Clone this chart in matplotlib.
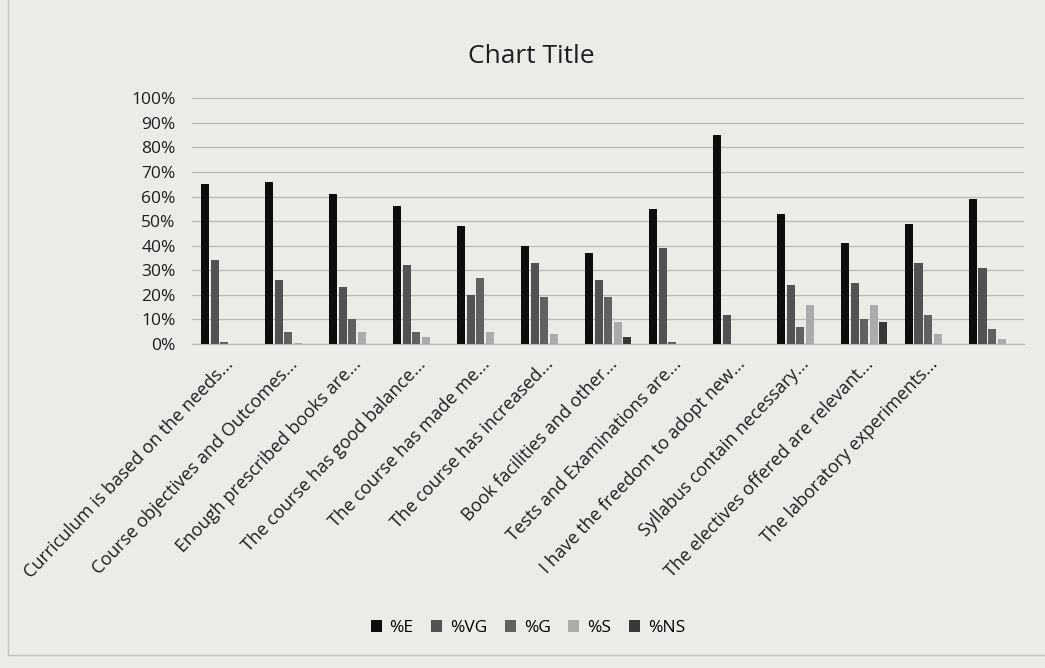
import matplotlib.pyplot as plt
import matplotlib.transforms as mtransforms
from matplotlib.patches import Rectangle
import numpy as np

plt.rcParams['font.family'] = ['Open Sans', 'DejaVu Sans']

# 13 groups in the chart, the last one has no label
categories = [
    "Curriculum is based on the needs...",
    "Course objectives and Outcomes...",
    "Enough prescribed books are...",
    "The course has good balance...",
    "The course has made me...",
    "The course has increased...",
    "Book facilities and other...",
    "Tests and Examinations are...",
    "I have the freedom to adopt new...",
    "Syllabus contain necessary...",
    "The electives offered are relevant...",
    "The laboratory experiments...",
    "",
]
series = ["%E", "%VG", "%G", "%S", "%NS"]
pct_e = [65, 66, 61, 56, 48, 40, 37, 55, 85, 53, 41, 49, 59]
pct_vg = [34, 26, 23, 32, 20, 33, 26, 39, 12, 24, 25, 33, 31]
pct_g = [1, 5, 10, 5, 27, 19, 19, 1, 0, 7, 10, 12, 6]
pct_s = [0, 0.5, 5, 3, 5, 4, 9, 0, 0, 16, 16, 4, 2]
pct_ns = [0, 0, 0, 0, 0, 0, 3, 0, 0, 0, 9, 0, 0]

colors = ["#0d0d0d", "#525252", "#616161", "#ababab", "#383838"]
bg = "#ecebe8"
txt = "#1e1e1e"

fig = plt.figure(figsize=(10.45, 6.68), dpi=100, facecolor=bg)
# chart border of the printed page
fig.patches.append(Rectangle((8 / 1045, 13 / 668), 1.1, 1.1, transform=fig.transFigure,
                             fill=False, edgecolor="#c4c4c4", linewidth=1.0))

ax = fig.add_axes([0.184, 0.485, 0.796, 0.368])
ax.set_facecolor("none")

x = np.arange(len(categories))
w = 0.15
for i, (vals, c) in enumerate(zip([pct_e, pct_vg, pct_g, pct_s, pct_ns], colors)):
    ax.bar(x + (i - 2) * w, vals, width=w * 0.84, color=c, label=series[i], zorder=3)

ax.set_xlim(-0.5, len(categories) - 0.5)
ax.set_ylim(0, 100)
ax.set_yticks(np.arange(0, 101, 10))
ax.set_yticklabels([f"{v}%" for v in range(0, 101, 10)], fontsize=12.5, color=txt)
ax.set_xticks(x)
ax.set_xticklabels(categories, rotation=46.5, ha="right", rotation_mode="anchor",
                   fontsize=13, color=txt)
offset = mtransforms.ScaledTranslation(0.24, 0.0, fig.dpi_scale_trans)
for lab in ax.get_xticklabels():
    lab.set_transform(lab.get_transform() + offset)
ax.tick_params(length=0, pad=8)
ax.tick_params(axis="y", pad=12)
ax.grid(axis="y", color="#b8b8b8", linewidth=0.9, zorder=0)
for s in ["top", "right", "left"]:
    ax.spines[s].set_visible(False)
ax.spines["bottom"].set_color("#b8b8b8")

fig.text(0.508, 0.915, "Chart Title", ha="center", va="center", fontsize=19, color=txt)
fig.legend(loc="center", bbox_to_anchor=(0.505, 0.06), ncol=5, frameon=False,
           fontsize=12.5, handlelength=0.65, handleheight=0.65, columnspacing=1.0,
           handletextpad=0.45)

fig.savefig("out.png", dpi=100, facecolor=bg)
